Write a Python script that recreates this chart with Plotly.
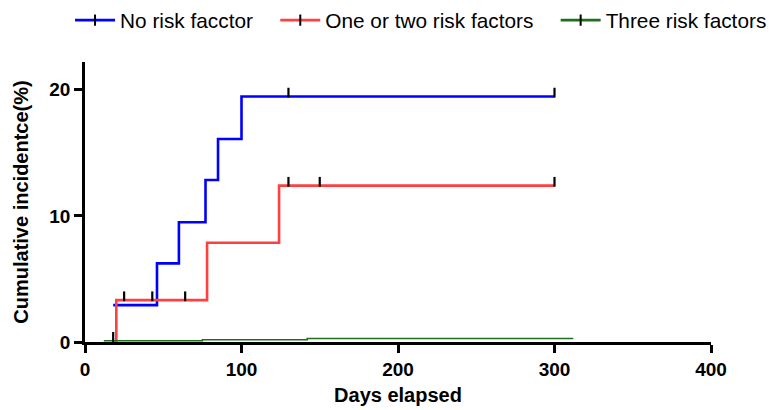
import plotly.graph_objects as go

# ---- data ----
blue_x = [18, 46, 60, 77, 85, 100, 300]
blue_y = [2.92, 6.23, 9.49, 12.85, 16.1, 19.47, 19.47]
blue_cens_x = [130, 300]

red_x = [20, 20, 78, 124, 300]
red_y = [0, 3.32, 7.87, 12.4, 12.4]
red_cens_x = [25, 43, 64, 130, 150, 300]

green_x = [12, 75, 142, 312]
green_y = [0.1, 0.18, 0.28, 0.28]
green_cens_x = [18]

names = ["No risk facctor", "One or two risk factors", "Three risk factors"]
colors = ["#0000ff", "#ff4040", "#1f6f1f"]

x_ticks = [0, 100, 200, 300, 400]
y_ticks = [0, 10, 20]

def step_value(xs, ys, x):
    v = ys[0]
    for xi, yi in zip(xs, ys):
        if xi <= x:
            v = yi
    return v

TICK_OFFSET = 0.3  # lift censor ticks above the curve (data units)
FONT = "Liberation Sans, Arial"
PADS = ["\u00a0" * 3, "\u00a0" * 3, ""]  # extra spacing after legend entries

fig = go.Figure()
series = [(blue_x, blue_y, blue_cens_x, 2.6), (red_x, red_y, red_cens_x, 2.6),
          (green_x, green_y, green_cens_x, 1.6)]
for (xs, ys, cx, w), name, col in zip(series, names, colors):
    fig.add_trace(go.Scatter(x=xs, y=ys, mode="lines", line=dict(color=col, width=w, shape="hv"),
                             showlegend=False, hoverinfo="skip"))
    cy = [step_value(xs, ys, c) + TICK_OFFSET for c in cx]
    fig.add_trace(go.Scatter(x=cx, y=cy, mode="markers",
                             marker=dict(symbol="line-ns", size=7, line=dict(color="black", width=2.2)),
                             showlegend=False, hoverinfo="skip"))

for name, col, pad in zip(names, colors, PADS):
    fig.add_trace(go.Scatter(x=[None], y=[None], mode="lines+markers", name=name + pad,
                             line=dict(color=col, width=2.6),
                             marker=dict(symbol="line-ns", size=8, line=dict(color="black", width=2))))

axis_font = dict(family=FONT, size=19, color="black")
fig.update_layout(
    width=769, height=410,
    margin=dict(l=85, r=58, t=62, b=68, autoexpand=False),
    plot_bgcolor="white", paper_bgcolor="white",
    font=dict(family=FONT, color="black"),
    legend=dict(orientation="h", x=-0.0239, xanchor="left",
                y=1.221, yanchor="top",
                font=dict(size=20.8, family=FONT), itemwidth=40,
                bgcolor="rgba(0,0,0,0)"),
    xaxis=dict(range=[0, 400], tickvals=x_ticks, ticktext=[f"<b>{v}</b>" for v in x_ticks],
               showline=True, linecolor="black", linewidth=2.5, ticks="outside", ticklen=8,
               tickwidth=2.5, tickcolor="black", showgrid=False, zeroline=False, tickfont=axis_font,
               automargin=False,
               title=dict(text="<b>Days elapsed</b>", font=dict(size=20, family=FONT), standoff=10)),
    yaxis=dict(range=[0, 22.2], tickvals=y_ticks, ticktext=[f"<b>{v}</b>" for v in y_ticks],
               showline=True, linecolor="black", linewidth=2.5, ticks="outside", ticklen=8,
               tickwidth=2.5, tickcolor="black", showgrid=False, zeroline=False, tickfont=axis_font,
               automargin=False,
               title=dict(text="<b>Cumulative incidentce(%)</b>",
                          font=dict(size=20, family=FONT), standoff=16)),
)

fig.write_html("out.html", config={"displayModeBar": False},
               post_script="document.body.style.margin='0';")
